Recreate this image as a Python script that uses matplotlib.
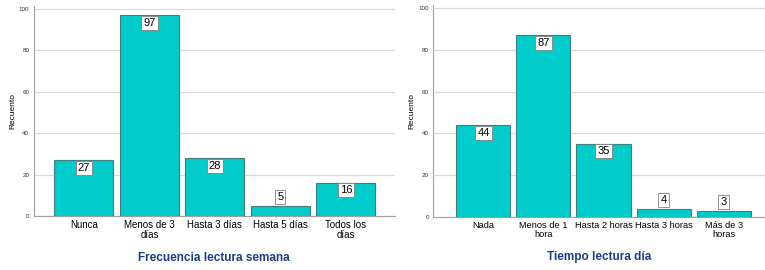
import matplotlib.pyplot as plt

plt.rcParams['font.family'] = ['Liberation Sans', 'DejaVu Sans']

# Frecuencia lectura semana
freq_cats = ['Nunca', 'Menos de 3\ndías', 'Hasta 3 días', 'Hasta 5 días', 'Todos los\ndías']
freq_vals = [27, 97, 28, 5, 16]

# Tiempo lectura día
time_cats = ['Nada', 'Menos de 1\nhora', 'Hasta 2 horas', 'Hasta 3 horas', 'Más de 3\nhoras']
time_vals = [44, 87, 35, 4, 3]

yticks = [0, 20, 40, 60, 80, 100]

bar_color = '#00CCCC'
edge_color = '#3F7F80'
title_color = '#1F3C8C'

W, H = 765, 270
fig = plt.figure(figsize=(7.65, 2.70), dpi=100)


def make_ax(left, right, bottom, top):
    return fig.add_axes([left / W, 1 - bottom / H, (right - left) / W, (bottom - top) / H])


def draw(ax, cats, vals, title, xlim, tick_fs):
    x = range(len(cats))
    ax.bar(x, vals, width=0.9, color=bar_color, edgecolor=edge_color, linewidth=0.8, zorder=3)
    ax.set_xlim(*xlim)
    ax.set_ylim(0, 101.5)
    ax.set_yticks(yticks)
    ax.set_yticklabels([str(t) for t in yticks], fontsize=4.5, color='#333333')
    ax.set_xticks(list(x))
    ax.set_xticklabels(cats, fontsize=tick_fs, linespacing=0.95)
    ax.tick_params(axis='x', length=0, pad=3)
    ax.tick_params(axis='y', length=0, pad=3)
    ax.grid(axis='y', color='#DADADA', linewidth=0.9, zorder=0)
    for s in ['top', 'right']:
        ax.spines[s].set_visible(False)
    ax.spines['left'].set_color('#A0A0A0')
    ax.spines['bottom'].set_color('#A0A0A0')
    ax.spines['left'].set_linewidth(0.8)
    ax.spines['bottom'].set_linewidth(0.8)
    ax.set_ylabel('Recuento', fontsize=6, labelpad=2)
    ax.set_xlabel(title, fontsize=8.5, fontweight='bold', color=title_color, labelpad=9)
    for i, v in enumerate(vals):
        if v >= 10:
            y, va = v - 1.2, 'top'
        else:
            y, va = v + 1.8, 'bottom'
        ax.text(i, y, str(v), ha='center', va=va, fontsize=8, zorder=5,
                bbox=dict(boxstyle='square,pad=0.18', facecolor='white',
                          edgecolor='#808080', linewidth=0.6))


ax1 = make_ax(33.5, 395, 216, 6)
draw(ax1, freq_cats, freq_vals, 'Frecuencia lectura semana', (-0.77, 4.75), 7.0)

ax2 = make_ax(433, 765, 217, 5)
draw(ax2, time_cats, time_vals, 'Tiempo lectura día', (-0.84, 4.69), 6.7)

fig.savefig('out.png', dpi=100)
